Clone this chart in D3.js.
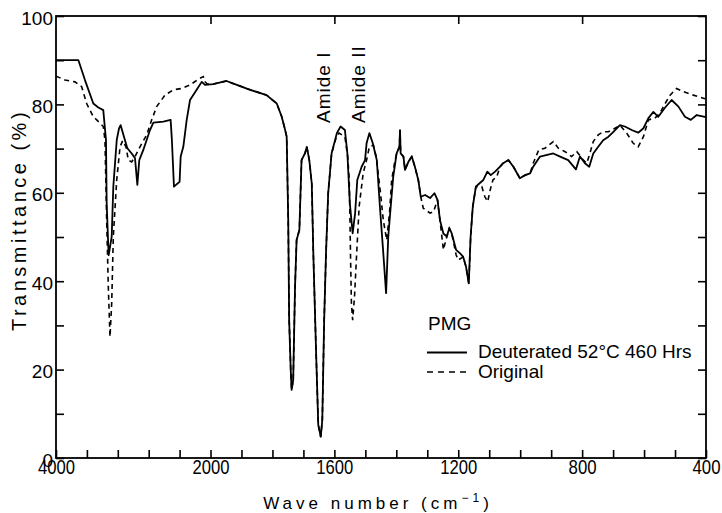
<!DOCTYPE html>
<html>
<head>
<meta charset="utf-8">
<script src="https://cdn.jsdelivr.net/npm/d3@7"></script>
<style>
  body { margin: 0; background: #fff; }
  svg { display: block; font-family: Arial, 'Liberation Sans', sans-serif; }
  .axis text { fill: #000; }
  .axis line { stroke: #000; stroke-width: 1.6; }
</style>
</head>
<body>
<svg id="chart" width="722" height="513"></svg>
<script>
// [wave number, transmittance %]
var deuterated = [
  [4000, 90], [3710, 90], [3625, 85.5], [3517, 80.2], [3452, 79.3], [3388, 78.7], [3353, 71.9],
  [3344, 57.7], [3323, 47.8], [3318, 45.9], [3279, 50.1], [3258, 61.4], [3214, 71.9], [3185, 74.5],
  [3163, 75.3], [3107, 71.9], [3077, 70.1], [3020, 68.9], [2977, 67.8], [2947, 61.8], [2922, 67.4],
  [2870, 69.7], [2783, 74.2], [2740, 75.9], [2611, 76.1], [2516, 76.5], [2500, 72], [2473, 61.4],
  [2447, 61.8], [2400, 62.5], [2386, 68.2], [2352, 70.4], [2308, 76.5], [2265, 81], [2179, 83.3],
  [2114, 85.1], [2071, 84.4], [1991, 84.6], [1948, 85.3], [1915, 84.4], [1872, 83.3], [1819, 82.1],
  [1786, 80.2], [1770, 77.2], [1760, 74.5], [1754, 72.7], [1749, 53.8], [1746, 31.2], [1741, 20],
  [1738, 15.4], [1733, 17.6], [1727, 38.8], [1722, 49.3], [1713, 51.6], [1706, 67.4], [1695, 68.9],
  [1689, 70.4], [1681, 67.4], [1673, 62.1], [1668, 46.3], [1659, 23.8], [1652, 7.5], [1644, 4.8],
  [1639, 8.6], [1633, 31.2], [1627, 46.3], [1620, 59.9], [1609, 68.9], [1592, 73.5], [1580, 75],
  [1566, 74.2], [1558, 68.9], [1550, 57.6], [1541, 50.8], [1533, 55.4], [1526, 62.9], [1512, 65.9],
  [1501, 67.4], [1496, 71.2], [1487, 73.5], [1476, 71.2], [1463, 67.4], [1453, 56.9], [1442, 46.3],
  [1433, 37.3], [1426, 50.1], [1418, 56.9], [1410, 63.6], [1399, 68.9], [1390, 70.4], [1388, 74.2],
  [1386, 68.9], [1377, 68.2], [1372, 65.2], [1361, 67], [1350, 68.2], [1340, 65.9], [1329, 62.9],
  [1321, 59.1], [1307, 59.5], [1291, 58.8], [1277, 59.9], [1267, 58.4], [1259, 53.8], [1248, 50.8],
  [1237, 50.1], [1229, 52], [1221, 50.8], [1207, 47.1], [1194, 46.3], [1184, 45.5], [1175, 43.3],
  [1166, 39.5], [1160, 50.1], [1153, 56.9], [1143, 61.4], [1132, 62.1], [1119, 62.9], [1106, 64.8],
  [1095, 64], [1081, 64.8], [1065, 65.9], [1055, 66.7], [1038, 67.4], [1022, 65.9], [1001, 63.3],
  [984, 64], [968, 64.4], [958, 65.9], [936, 68.2], [893, 68.9], [871, 68.2], [845, 67.4], [820, 65.3],
  [807, 68.2], [791, 66.7], [777, 65.9], [764, 68.9], [748, 70.4], [732, 71.9], [715, 72.7], [699, 73.8],
  [678, 75.3], [662, 75], [640, 74.2], [619, 73.6], [602, 74.6], [586, 76.9], [570, 78.3], [554, 77.2],
  [532, 79.3], [511, 81], [489, 79.5], [468, 77.2], [449, 76.5], [430, 77.6], [400, 77.1]
]

var original = [
  [4000, 86.4], [3883, 85.5], [3754, 85.1], [3668, 84], [3603, 80.2], [3517, 77.2], [3473, 76.5],
  [3388, 75], [3366, 71.9], [3344, 53.8], [3323, 38.8], [3301, 27.4], [3279, 35], [3258, 50.1],
  [3214, 62.9], [3171, 70.4], [3137, 71.8], [3094, 70.4], [3064, 67.4], [3020, 67], [2977, 68.2],
  [2913, 70.4], [2826, 73.1], [2761, 76.5], [2697, 79.5], [2589, 82.1], [2481, 83.3], [2373, 83.6],
  [2265, 84.4], [2157, 85.7], [2093, 86.3], [2071, 85.1], [2040, 84.6], [1991, 84.6], [1948, 85.3],
  [1915, 84.4], [1872, 83.3], [1819, 82.1], [1786, 80.2], [1770, 77.2], [1760, 74.5], [1754, 72.7],
  [1749, 53.8], [1746, 31.2], [1741, 20], [1738, 15.4], [1733, 17.6], [1727, 38.8], [1722, 49.3],
  [1713, 51.6], [1706, 67.4], [1695, 68.9], [1689, 70.4], [1681, 67.4], [1673, 62.1], [1668, 46.3],
  [1659, 23.8], [1652, 7.5], [1644, 4.8], [1639, 8.6], [1633, 31.2], [1627, 46.3], [1620, 59.9],
  [1609, 68.9], [1592, 73], [1585, 73.5], [1566, 72.7], [1557, 68.2], [1552, 62.9], [1550, 55.4],
  [1548, 46.3], [1545, 35], [1541, 31.2], [1535, 36.5], [1528, 46.3], [1520, 56.9], [1507, 64.4],
  [1496, 67.4], [1487, 70.4], [1474, 70.8], [1465, 68.2], [1451, 59.9], [1442, 53.8], [1431, 49.3],
  [1422, 55.4], [1415, 62.9], [1405, 67], [1399, 68.9], [1390, 70.4], [1388, 74.2], [1386, 68.9],
  [1377, 68.2], [1372, 65.2], [1361, 67], [1350, 68.2], [1340, 65.9], [1329, 62.9], [1321, 59.1],
  [1313, 56.5], [1291, 55.4], [1280, 55.7], [1267, 58.4], [1259, 53.8], [1248, 47.1], [1240, 49.3],
  [1229, 52], [1221, 50.8], [1207, 46], [1200, 44.8], [1184, 45.5], [1175, 43.3], [1166, 39.5],
  [1160, 50.1], [1153, 56.9], [1143, 61.4], [1124, 61.4], [1114, 59.1], [1105, 58], [1097, 60.6],
  [1088, 62.9], [1076, 63.6], [1065, 65.9], [1055, 66.7], [1038, 67.4], [1022, 65.9], [1001, 63.3],
  [984, 64], [968, 64.4], [958, 66.7], [940, 69.7], [920, 70.1], [893, 71.6], [877, 70.1], [855, 69.3],
  [834, 68.2], [817, 69.3], [796, 67.4], [785, 66.7], [775, 68.9], [764, 71.6], [748, 73.1], [732, 73.8],
  [715, 73.8], [694, 74.6], [678, 75.3], [656, 73.5], [635, 71.2], [619, 70.4], [602, 72.7], [586, 76.5],
  [565, 76.9], [549, 78], [532, 80.2], [516, 82.1], [495, 83.6], [473, 82.9], [441, 82.1], [403, 81.3]
]

var xTicks = [4000, 3600, 3200, 2800, 2400, 2000, 1900, 1800, 1700, 1600, 1500, 1400, 1300, 1200,
  1100, 1000, 900, 800, 700, 600, 500, 400]
var xLabels = [4000, 2000, 1600, 1200, 800, 400]
var xTopTicks = [2000, 1600, 1200, 800]
var yTicks = [0, 10, 20, 30, 40, 50, 60, 70, 80, 90, 100]
var yLabels = [0, 20, 40, 60, 80, 100]

var svg = d3.select('#chart')
var plotLeft = 56, plotRight = 706, plotTop = 16, plotBottom = 458

// the spectrum chart paper switches scale at 2000 cm-1
var x = d3.scaleLinear().domain([4000, 2000, 400]).range([plotLeft, 210.5, plotRight])
var y = d3.scaleLinear().domain([0, 100]).range([plotBottom, plotTop])

svg.append('g')
  .attr('class', 'axis')
  .attr('transform', 'translate(0,' + plotBottom + ')')
  .call(d3.axisBottom(x).tickValues(xTicks).tickSize(-8).tickPadding(2)
    .tickFormat((d) => xLabels.indexOf(d) >= 0 ? d : ''))
  .call((g) => g.select('.domain').remove())
  .selectAll('text')
  .filter((d) => xLabels.indexOf(d) >= 0)
  .style('font-size', '20px')
  .attr('textLength', (d) => d === 400 || d === 800 ? 28 : 37)
  .attr('lengthAdjust', 'spacingAndGlyphs')

svg.append('g')
  .attr('class', 'axis')
  .attr('transform', 'translate(0,' + plotTop + ')')
  .call(d3.axisTop(x).tickValues(xTopTicks).tickSize(-8).tickFormat(''))
  .call((g) => g.select('.domain').remove())

svg.append('g')
  .attr('class', 'axis')
  .attr('transform', 'translate(' + plotLeft + ',0)')
  .call(d3.axisLeft(y).tickValues(yTicks).tickSize(-8).tickPadding(3)
    .tickFormat((d) => yLabels.indexOf(d) >= 0 ? d : ''))
  .call((g) => g.select('.domain').remove())
  .selectAll('text')
  .attr('y', 2)
  .style('font-size', '19px')

svg.append('g')
  .attr('class', 'axis')
  .attr('transform', 'translate(' + plotRight + ',0)')
  .call(d3.axisRight(y).tickValues(yTicks).tickSize(-8).tickFormat(''))
  .call((g) => g.select('.domain').remove())

svg.append('rect')
  .attr('x', plotLeft).attr('y', plotTop)
  .attr('width', plotRight - plotLeft).attr('height', plotBottom - plotTop)
  .attr('fill', 'none').attr('stroke', '#000').attr('stroke-width', 1.8)

var line = d3.line()
  .x((d) => x(d[0]))
  .y((d) => y(d[1]))

svg.append('path')
  .datum(original)
  .attr('d', line)
  .attr('fill', 'none').attr('stroke', '#000')
  .attr('stroke-width', 1.6).attr('stroke-dasharray', '5,4')

svg.append('path')
  .datum(deuterated)
  .attr('d', line)
  .attr('fill', 'none').attr('stroke', '#000')
  .attr('stroke-width', 1.8).attr('stroke-linejoin', 'round')

// axis titles
svg.append('text')
  .attr('transform', 'translate(26,220) rotate(-90)')
  .attr('text-anchor', 'middle')
  .style('font-size', '20px')
  .style('letter-spacing', '3.5px')
  .text('Transmittance (%)')

var xt = svg.append('text')
  .attr('x', 378).attr('y', 509)
  .attr('text-anchor', 'middle')
  .style('font-size', '17px')
  .style('letter-spacing', '4px')
xt.append('tspan').text('Wave number (cm')
xt.append('tspan').attr('dy', -7).style('font-size', '12px').text('−1')
xt.append('tspan').attr('dy', 7).text(')')

// peak labels
svg.append('text')
  .attr('transform', 'translate(330,123) rotate(-90)')
  .style('font-size', '19px').style('letter-spacing', '1px')
  .text('Amide I')
svg.append('text')
  .attr('transform', 'translate(365,123) rotate(-90)')
  .style('font-size', '19px').style('letter-spacing', '1px')
  .text('Amide II')

// legend
var legend = svg.append('g')
legend.append('text').attr('x', 428).attr('y', 330).style('font-size', '19px').text('PMG')
legend.append('line').attr('x1', 427).attr('x2', 467).attr('y1', 352.5).attr('y2', 352.5)
  .attr('stroke', '#000').attr('stroke-width', 1.8)
legend.append('text').attr('x', 478).attr('y', 358).style('font-size', '19px')
  .text('Deuterated  52°C 460 Hrs')
legend.append('line').attr('x1', 427).attr('x2', 467).attr('y1', 372).attr('y2', 372)
  .attr('stroke', '#000').attr('stroke-width', 1.6).attr('stroke-dasharray', '6,5')
legend.append('text').attr('x', 478).attr('y', 378).style('font-size', '19px').text('Original')
</script>
</body>
</html>
